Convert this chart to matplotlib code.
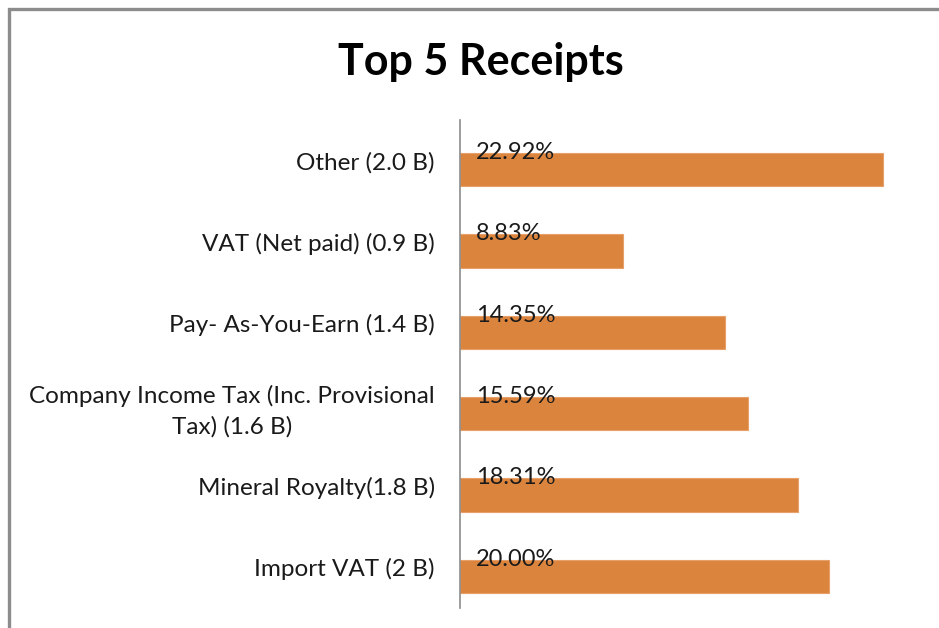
import matplotlib.pyplot as plt
from matplotlib.patches import Rectangle

# --- data (bottom to top as drawn)
categories = [
    "Import VAT (2 B)",
    "Mineral Royalty(1.8 B)",
    "Company Income Tax (Inc. Provisional\nTax) (1.6 B)",
    "Pay- As-You-Earn (1.4 B)",
    "VAT (Net paid) (0.9 B)",
    "Other (2.0 B)",
]
shares = [20.00, 18.31, 15.59, 14.35, 8.83, 22.92]
share_labels = ["20.00%", "18.31%", "15.59%", "14.35%", "8.83%", "22.92%"]

plt.rcParams['font.family'] = ['Lato', 'DejaVu Sans']

fig = plt.figure(figsize=(9.39, 6.28), dpi=100)
W, H = 939, 628

# grey chart border (only left/top visible, rest runs off the image)
fig.add_artist(Rectangle((8.5 / W, -0.1), 1.2, 1.1 - 9.5 / H, transform=fig.transFigure,
                         fill=False, edgecolor="#8c8c8c", linewidth=2.4))

fig.text(481 / W, 1 - 62 / H, "Top 5 Receipts", ha="center", va="center",
         fontsize=31, fontweight="bold", color="black")

ax = fig.add_axes([460 / W, 1 - 608 / H, 461.5 / W, 488 / H])
y = list(range(len(categories)))
ax.barh([v - 0.11 for v in y], shares, height=0.41, color="#DB843D",
        edgecolor="#E8A06A", linewidth=0.8)

for i, lab in zip(y, share_labels):
    ax.text(0.85, i + 0.1, lab, ha="left", va="center", fontsize=17, color="#1a1a1a")

ax.set_xlim(0, 25)
ax.set_ylim(-0.5, 5.5)
ax.set_yticks(y)
ax.set_yticklabels(categories, fontsize=17.5, color="#1a1a1a", multialignment="center",
                   linespacing=1.5)
ax.tick_params(axis="y", length=0, pad=18)
ax.set_xticks([])
for s in ["top", "right", "bottom"]:
    ax.spines[s].set_visible(False)
ax.spines["left"].set_color("#8c8c8c")
ax.spines["left"].set_linewidth(1.2)

fig.savefig("out.png", dpi=100)
